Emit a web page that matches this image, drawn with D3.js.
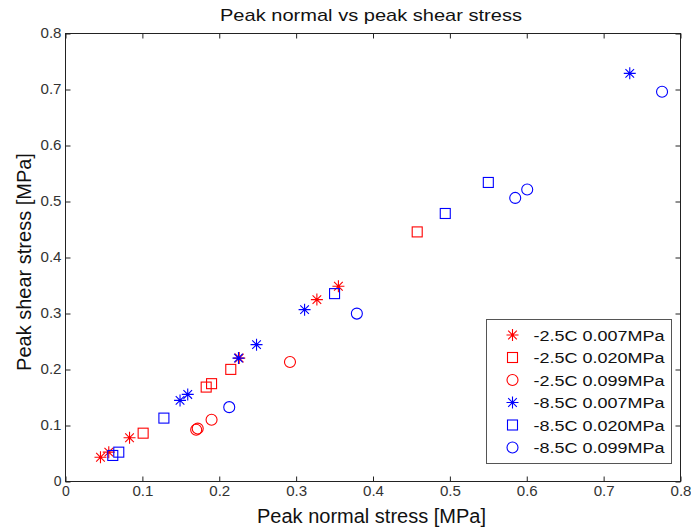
<!DOCTYPE html>
<html>
<head>
<meta charset="utf-8">
<script src="https://cdn.jsdelivr.net/npm/d3@7"></script>
<style>
  html, body { margin: 0; padding: 0; background: #fff; }
  svg { display: block; font-family: "Liberation Sans", Arial, sans-serif; }
</style>
</head>
<body>
<svg id="chart" width="691" height="529"></svg>
<script>
// Tick values for both axes
const xTicks = [0, 0.1, 0.2, 0.3, 0.4, 0.5, 0.6, 0.7, 0.8];
const yTicks = [0, 0.1, 0.2, 0.3, 0.4, 0.5, 0.6, 0.7, 0.8];

// Series labels (temperature, normal stress level)
const seriesLabels = [
  "-2.5C 0.007MPa", "-2.5C 0.020MPa", "-2.5C 0.099MPa",
  "-8.5C 0.007MPa", "-8.5C 0.020MPa", "-8.5C 0.099MPa"
];

// Peak normal stress (x) and peak shear stress (y), MPa
const x_m25_007 = [0.0455, 0.0563, 0.0833, 0.226, 0.327, 0.355];
const y_m25_007 = [0.0434, 0.0524, 0.0781, 0.2204, 0.3248, 0.3486];

const x_m25_020 = [0.101, 0.183, 0.190, 0.215, 0.4575];
const y_m25_020 = [0.0863, 0.1686, 0.1747, 0.2002, 0.4457];

const x_m25_099 = [0.170, 0.172, 0.190, 0.292];
const y_m25_099 = [0.0924, 0.0945, 0.1103, 0.2133];

const x_m85_007 = [0.149, 0.159, 0.225, 0.2485, 0.311, 0.734];
const y_m85_007 = [0.1448, 0.1555, 0.2204, 0.2444, 0.3069, 0.7288];

const x_m85_020 = [0.0615, 0.0693, 0.128, 0.350, 0.494, 0.550];
const y_m85_020 = [0.0465, 0.0524, 0.1132, 0.3355, 0.4786, 0.534];

const x_m85_099 = [0.213, 0.379, 0.585, 0.6006, 0.776];
const y_m85_099 = [0.1328, 0.2998, 0.5064, 0.5214, 0.6959];

const seriesX = [x_m25_007, x_m25_020, x_m25_099, x_m85_007, x_m85_020, x_m85_099];
const seriesY = [y_m25_007, y_m25_020, y_m25_099, y_m85_007, y_m85_020, y_m85_099];
const seriesColor = ["#f00", "#f00", "#f00", "#00f", "#00f", "#00f"];
const seriesMarker = ["star", "square", "circle", "star", "square", "circle"];

const svg = d3.select("#chart");
const plotLeft = 65.5, plotRight = 680.5, plotTop = 33.5, plotBottom = 481.5;

const x = d3.scaleLinear().domain([0, 0.8]).range([plotLeft, plotRight]);
const y = d3.scaleLinear().domain([0, 0.8]).range([plotBottom, plotTop]);

const axisColor = "#222";
const tickFmt = d => (d === 0 ? "0" : d3.format(".1f")(d));

// Box around the plot area
svg.append("rect")
  .attr("x", plotLeft).attr("y", plotTop)
  .attr("width", plotRight - plotLeft).attr("height", plotBottom - plotTop)
  .attr("fill", "none").attr("stroke", axisColor).attr("stroke-width", 1);

// Axes with inward ticks on all four sides
const tickLen = 5;
svg.append("g").attr("class", "xaxis").attr("transform", `translate(0,${plotBottom})`)
  .call(d3.axisBottom(x).tickValues(xTicks).tickSizeInner(-tickLen).tickSizeOuter(0).tickPadding(5).tickFormat(tickFmt))
  .call(g => g.select(".domain").remove());
svg.append("g").attr("transform", `translate(0,${plotTop})`)
  .call(d3.axisTop(x).tickValues(xTicks).tickSizeInner(-tickLen).tickSizeOuter(0).tickFormat(""))
  .call(g => g.select(".domain").remove());
svg.append("g").attr("class", "yaxis").attr("transform", `translate(${plotLeft},0)`)
  .call(d3.axisLeft(y).tickValues(yTicks).tickSizeInner(-tickLen).tickSizeOuter(0).tickPadding(4).tickFormat(tickFmt))
  .call(g => g.select(".domain").remove());
svg.append("g").attr("transform", `translate(${plotRight},0)`)
  .call(d3.axisRight(y).tickValues(yTicks).tickSizeInner(-tickLen).tickSizeOuter(0).tickFormat(""))
  .call(g => g.select(".domain").remove());

svg.selectAll(".tick line").attr("stroke", axisColor);
svg.selectAll(".tick text")
  .attr("fill", "#333")
  .style("font-family", "'Liberation Sans', Arial, sans-serif")
  .style("font-size", "14px");
// Tick labels are drawn slightly wide
svg.selectAll(".xaxis .tick text, .yaxis .tick text")
  .filter(d => d !== 0)
  .attr("textLength", 21).attr("lengthAdjust", "spacingAndGlyphs");

// Marker drawing
function drawMarker(g, type, color) {
  if (type === "square") {
    g.append("rect").attr("x", -5).attr("y", -5).attr("width", 10).attr("height", 10)
      .attr("fill", "none").attr("stroke", color).attr("stroke-width", 1.1);
  } else if (type === "circle") {
    g.append("circle").attr("r", 5.5)
      .attr("fill", "none").attr("stroke", color).attr("stroke-width", 1.1);
  } else {
    const r = 6, d = r * 0.72;
    g.append("path")
      .attr("d", `M${-r},0H${r}M0,${-r}V${r}M${-d},${-d}L${d},${d}M${-d},${d}L${d},${-d}`)
      .attr("fill", "none").attr("stroke", color).attr("stroke-width", 1.1);
    g.append("circle").attr("r", 1.3).attr("fill", color);
  }
}

// Scatter points
seriesX.forEach((xs, i) => {
  const pts = xs.map((v, j) => [v, seriesY[i][j]]);
  svg.append("g").selectAll("g")
    .data(pts).join("g")
    .attr("transform", d => `translate(${x(d[0])},${y(d[1])})`)
    .each(function () { drawMarker(d3.select(this), seriesMarker[i], seriesColor[i]); });
});

// Title and axis labels
svg.append("text")
  .attr("x", 371).attr("y", 21).attr("text-anchor", "middle")
  .attr("font-size", 17).attr("textLength", 302).attr("lengthAdjust", "spacingAndGlyphs")
  .attr("fill", "#111")
  .text("Peak normal vs peak shear stress");

svg.append("text")
  .attr("x", 371.5).attr("y", 523).attr("text-anchor", "middle")
  .attr("font-size", 20).attr("fill", "#111")
  .text("Peak normal stress [MPa]");

svg.append("text")
  .attr("transform", "translate(31,262) rotate(-90)")
  .attr("text-anchor", "middle")
  .attr("font-size", 20).attr("fill", "#111")
  .text("Peak shear stress [MPa]");

// Legend
const lg = svg.append("g");
lg.append("rect")
  .attr("x", 486.5).attr("y", 319.5).attr("width", 185).attr("height", 144)
  .attr("fill", "#fff").attr("stroke", "#555").attr("stroke-width", 1);

seriesLabels.forEach((lab, i) => {
  const cy = 335 + i * 22.5;
  const mg = lg.append("g").attr("transform", `translate(512.5,${cy})`);
  drawMarker(mg, seriesMarker[i], seriesColor[i]);
  lg.append("text")
    .attr("x", 533.5).attr("y", cy + 5.5)
    .attr("font-size", 15.5).attr("textLength", 131).attr("lengthAdjust", "spacingAndGlyphs")
    .attr("fill", "#111")
    .text(lab);
});
</script>
</body>
</html>
